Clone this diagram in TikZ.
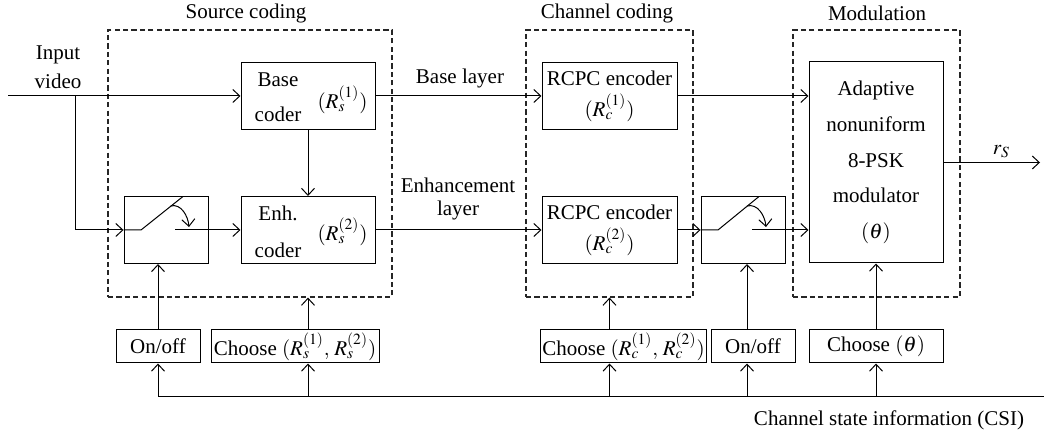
\documentclass[tikz,border=0pt]{standalone}
\usepackage{mathptmx}
\usepackage[no-math]{fontspec}
\setmainfont{Liberation Serif}
\usetikzlibrary{arrows.meta,positioning}

\tikzset{
  block/.style={draw, line width=0.5pt, inner sep=1pt},
  grp/.style={draw=black!85, line width=0.6pt, dash pattern=on 2.6pt off 1.6pt},
  wire/.style={line width=0.5pt},
  sig/.style={line width=0.5pt, -{Straight Barb[length=3.5pt,width=6.5pt]}},
}

\begin{document}
\begin{tikzpicture}[x=0.5pt,y=0.5pt,font=\fontsize{10.5}{12.6}\selectfont]
\useasboundingbox (0,0) rectangle (1044,-437);

% Groups
\node[grp, minimum width=142pt, minimum height=133.5pt] (src) at (250,-163.5) {};
\node at (246,-13) {Source coding};
\node[grp, minimum width=83.5pt, minimum height=133.5pt] (chan) at (609.5,-163.5) {};
\node at (607,-13) {Channel coding};
\node[grp, minimum width=83.5pt, minimum height=133.5pt] (modu) at (876.5,-163.5) {};
\node at (877,-13) {Modulation};

% Source coder
\node[block, minimum width=67pt, minimum height=33.5pt] (base) at (308,-96) {};
\node[align=center, font=\fontsize{10.5}{17.5}\selectfont] at (278,-97.5) {Base\\coder};
\node at (342.5,-100) {$(R_s^{(1)})$};
\node[block, minimum width=67pt, minimum height=33.5pt] (enh) at (308,-230) {};
\node[align=center, font=\fontsize{10.5}{18.5}\selectfont] at (278,-231.5) {Enh.\\coder};
\node at (342.5,-232) {$(R_s^{(2)})$};
\node[block, minimum width=42pt, minimum height=33.5pt] (sw1) at (166,-230) {};

% Channel coder
\node[block, minimum width=67.5pt, minimum height=33.5pt, align=center,
      font=\fontsize{10.5}{15.5}\selectfont] (rcpc1) at (609.5,-96) {RCPC encoder\\$(R_c^{(1)})$};
\node[block, minimum width=67.5pt, minimum height=33.5pt, align=center,
      font=\fontsize{10.5}{15.5}\selectfont] (rcpc2) at (609.5,-230) {RCPC encoder\\$(R_c^{(2)})$};
\node[block, minimum width=42pt, minimum height=33.5pt] (sw2) at (743,-230) {};

% Modulator
\node[block, minimum width=67pt, minimum height=100.5pt, align=center,
      font=\fontsize{10.5}{17.9}\selectfont] (mod) at (876,-162.5)
      {Adaptive\\nonuniform\\8-PSK\\modulator\\$(\theta)$};

% Control boxes
\node[block, minimum width=42pt, minimum height=16.5pt] (onoff1) at (158,-346.5) {On/off};
\node[block, minimum width=84pt, minimum height=16.5pt] (choose1) at (295,-346.5) {Choose $(R_s^{(1)},\,R_s^{(2)})$};
\node[block, minimum width=81.5pt, minimum height=16.5pt] (choose2) at (623.5,-346.5) {Choose $(R_c^{(1)},\,R_c^{(2)})$};
\node[block, minimum width=42pt, minimum height=16.5pt] (onoff2) at (753,-346.5) {On/off};
\node[block, minimum width=67pt, minimum height=16.5pt] (choose3) at (876,-346.5) {Choose $(\theta)$};

% Free ends
\coordinate (in) at (8,-96);
\coordinate (br) at (75,-96);
\coordinate (out) at (1040,-162.5);
\coordinate (csiL) at (158,-397);
\coordinate (csiR) at (1044,-397);
\coordinate (tap) at (747,-397);

% Signal paths
\node[align=center, font=\fontsize{10.5}{14.5}\selectfont] at (58,-67.5) {Input\\video};
\draw[sig] (in) -- (base.west);
\draw[sig] (br) |- (sw1.west);
\draw[sig] (base.south) -- (enh.north);
\draw[sig] (base.east) -- (rcpc1.west);
\node at (460,-78) {Base layer};
\draw[sig] (enh.east) -- (rcpc2.west);
\node[align=center, font=\fontsize{10.5}{11.5}\selectfont] at (458,-199) {Enhancement\\layer};
\draw[sig] (rcpc1.east) -- (rcpc1.east -| mod.west);
\draw[sig] (rcpc2.east) -- (sw2.west);
\draw[sig] (mod.east) -- (out) node[pos=0.6, above, inner sep=2pt] {$r_S$};

% Switches
\draw[wire] (sw1.west) -- (141,-230) -- (183,-196.5);
\draw[sig] (175,-230) -- (enh.west);
\draw[sig] (170.6,-206) to[out=15,in=95] (189,-227);
\draw[wire] (sw2.west) -- (718,-230) -- (759,-196.5);
\draw[sig] (752,-230) -- (mod.west |- sw2.east);
\draw[sig] (747,-206) to[out=15,in=95] (766,-227);

% Control
\draw[wire] (csiL) -- (csiR);
\node at (889,-420) {Channel state information (CSI)};
\draw[sig] (csiL) -- (onoff1.south);
\draw[sig] (onoff1.north) -- (onoff1.north |- sw1.south);
\draw[sig] (base.south |- csiL) -- (base.south |- choose1.south);
\draw[sig] (base.south |- choose1.north) -- (base.south |- src.south);
\draw[sig] (chan.south |- csiL) -- (chan.south |- choose2.south);
\draw[sig] (chan.south |- choose2.north) -- (chan.south);
\draw[sig] (tap) -- (tap |- onoff2.south);
\draw[sig] (tap |- onoff2.north) -- (tap |- sw2.south);
\draw[sig] (mod.south |- csiL) -- (mod.south |- choose3.south);
\draw[sig] (choose3.north) -- (mod.south);
\end{tikzpicture}
\end{document}
